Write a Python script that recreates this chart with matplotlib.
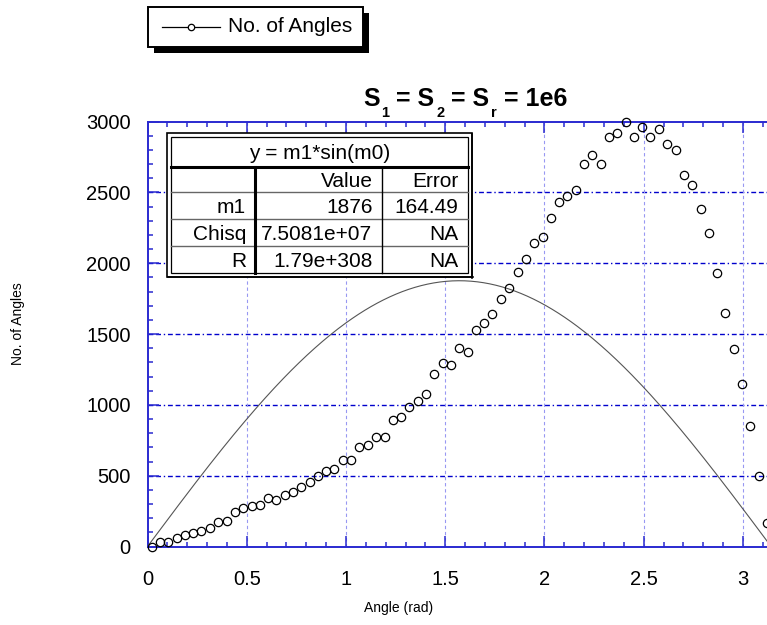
import numpy as np
import matplotlib.pyplot as plt
from matplotlib.lines import Line2D
from matplotlib.patches import Rectangle

plt.rcParams['font.family'] = ['Liberation Sans', 'DejaVu Sans']

# ----------------------------
# Data
# ----------------------------
angle = [0.021, 0.063, 0.105, 0.147, 0.188, 0.230, 0.272, 0.314, 0.356, 0.398,
         0.440, 0.482, 0.524, 0.565, 0.607, 0.649, 0.691, 0.733, 0.775, 0.817,
         0.859, 0.901, 0.942, 0.984, 1.026, 1.068, 1.110, 1.152, 1.194, 1.236,
         1.278, 1.319, 1.361, 1.403, 1.445, 1.487, 1.529, 1.571, 1.613, 1.655,
         1.696, 1.738, 1.780, 1.822, 1.864, 1.906, 1.948, 1.990, 2.032, 2.073,
         2.115, 2.157, 2.199, 2.241, 2.283, 2.325, 2.367, 2.409, 2.450, 2.492,
         2.534, 2.576, 2.618, 2.660, 2.702, 2.744, 2.786, 2.827, 2.869, 2.911,
         2.953, 2.995, 3.037, 3.079, 3.121]
n_angles = [0, 34, 29, 59, 82, 97, 112, 133, 171, 181,
            241, 270, 289, 294, 341, 326, 365, 388, 419, 455,
            496, 532, 550, 609, 614, 699, 720, 775, 775, 894,
            913, 984, 1024, 1080, 1219, 1292, 1280, 1403, 1374, 1530,
            1581, 1638, 1750, 1824, 1939, 2027, 2144, 2186, 2318, 2434,
            2473, 2518, 2699, 2767, 2699, 2888, 2916, 2994, 2889, 2960,
            2890, 2949, 2839, 2800, 2625, 2549, 2384, 2212, 1933, 1647,
            1393, 1149, 854, 496, 165]

# fit result: y = m1*sin(m0)
m1 = 1876
fit_title = "y = m1*sin(m0)"
col_labels = ["", "Value", "Error"]
row_labels = ["m1", "Chisq", "R"]
row_values = ["1876", "7.5081e+07", "1.79e+308"]
row_errors = ["164.49", "NA", "NA"]

x_ticks = [0, 0.5, 1, 1.5, 2, 2.5, 3]
y_ticks = [0, 500, 1000, 1500, 2000, 2500, 3000]

blue = "#2a2ad0"
W, H = 767, 625

fig = plt.figure(figsize=(W / 100, H / 100), dpi=100)
ax = fig.add_axes([147.5 / W, 1 - 546.5 / H, 623.6 / W, 425 / H])

# fit curve
xf = np.linspace(0, np.pi, 400)
ax.plot(xf, m1 * np.sin(xf), color="#555555", lw=0.8, zorder=3)

# data points
ax.plot(angle, n_angles, ls="none", marker="o", ms=6, mfc="none",
        mec="black", mew=0.9, clip_on=False, zorder=4)

ax.set_xlim(0, np.pi)
ax.set_ylim(0, 3000)
ax.set_xticks(x_ticks)
ax.set_xticklabels(["0", "0.5", "1", "1.5", "2", "2.5", "3"])
ax.set_yticks(y_ticks)
ax.set_xticks(np.arange(0, 3.15, 0.1), minor=True)
ax.set_yticks(np.arange(0, 3001, 100), minor=True)

for side in ["top", "left", "bottom"]:
    ax.spines[side].set_color(blue)
    ax.spines[side].set_linewidth(1.4)
ax.spines["right"].set_visible(False)

ax.tick_params(which="both", direction="in", top=True, right=False, color=blue, width=1.1)
ax.tick_params(which="major", length=8)
ax.tick_params(which="minor", length=3.6)
ax.tick_params(axis="x", which="major", pad=17, labelsize=14.5)
ax.tick_params(axis="y", which="major", pad=12, labelsize=14.5)

# grid
for yv in y_ticks[1:-1]:
    ax.axhline(yv, color="#0000cc", lw=1, ls=(0, (3.5, 2, 3.5, 2, 1, 2)), zorder=1)
for xv in x_ticks[1:]:
    ax.axvline(xv, color="#9898f2", lw=0.8, ls=(0, (3, 2.5)), zorder=1)

# axis labels
fig.text(18 / W, 1 - 324 / H, "No. of Angles", rotation=90, fontsize=10,
         ha="center", va="center")
fig.text(399 / W, 1 - 608 / H, "Angle (rad)", fontsize=10, ha="center", va="center")

# title with lowered subscripts
title_parts = [("1", True), (" = S", False), ("2", True), (" = S", False),
               ("r", True), (" = 1e6", False)]
base = fig.text(363 / W, 1 - 106 / H, "S", fontsize=18, fontweight="bold",
                ha="left", va="baseline")
prev = base
for txt, sub in title_parts:
    if sub:
        prev = ax.annotate(txt, xy=(1, 0), xycoords=(prev, base), xytext=(1.2, -4.5),
                           textcoords="offset points", fontsize=10.5,
                           fontweight="bold", ha="left", va="baseline")
    else:
        prev = ax.annotate(txt, xy=(1, 0), xycoords=(prev, base), xytext=(0, 0),
                           textcoords="offset points", fontsize=18,
                           fontweight="bold", ha="left", va="bottom")

# overlay in pixel coords for legend and table
ov = fig.add_axes([0, 0, 1, 1], zorder=5)
ov.set_xlim(0, W)
ov.set_ylim(H, 0)
ov.axis("off")

# legend box
ov.add_patch(Rectangle((154, 13), 215, 40, facecolor="black", edgecolor="none"))
ov.add_patch(Rectangle((148, 7), 215, 40, facecolor="white", edgecolor="black", lw=1.4))
ov.add_line(Line2D([162, 220], [27, 27], color="black", lw=0.9))
ov.plot([191], [27], marker="o", ms=4.6, mfc="white", mec="black", mew=0.9)
ov.text(228, 27, "No. of Angles", fontsize=15, ha="left", va="center")

# parameter table
tx0, tx1, ty0, ty1 = 170.7, 468.3, 136.7, 272.7
ov.add_patch(Rectangle((167.3, 133.3), 305, 143.4, facecolor="white",
                       edgecolor="black", lw=1.2))
ov.add_line(Line2D([472.3, 472.3], [134, 277.5], color="black", lw=1.2))
ov.add_line(Line2D([167.5, 472.8], [276.9, 276.9], color="black", lw=1.2))
ov.add_patch(Rectangle((tx0, ty0), tx1 - tx0, ty1 - ty0, facecolor="white",
                       edgecolor="black", lw=0.9))
ov.add_line(Line2D([tx0, tx1], [166.7, 166.7], color="black", lw=2.2))
for yl in [191.7, 219.0, 245.7]:
    ov.add_line(Line2D([tx0, tx1], [yl, yl], color="#666666", lw=1.0))
ov.add_line(Line2D([255, 255], [166.7, ty1], color="black", lw=2.2))
ov.add_line(Line2D([381.7, 381.7], [166.7, ty1], color="black", lw=1.0))

ov.text((tx0 + tx1) / 2, 151.7 + 7.4, fit_title, fontsize=15, ha="center", va="baseline")
col_right = [246, 372.5, 458]
row_mid = [179.2, 205.3, 232.3, 259.2]
table_rows = [col_labels] + [[a, b, c] for a, b, c in zip(row_labels, row_values, row_errors)]
for r, cells in enumerate(table_rows):
    for c, cell in enumerate(cells):
        ov.text(col_right[c], row_mid[r] + 7.4, cell, fontsize=15, ha="right", va="baseline")

fig.savefig("out.png", dpi=100)
